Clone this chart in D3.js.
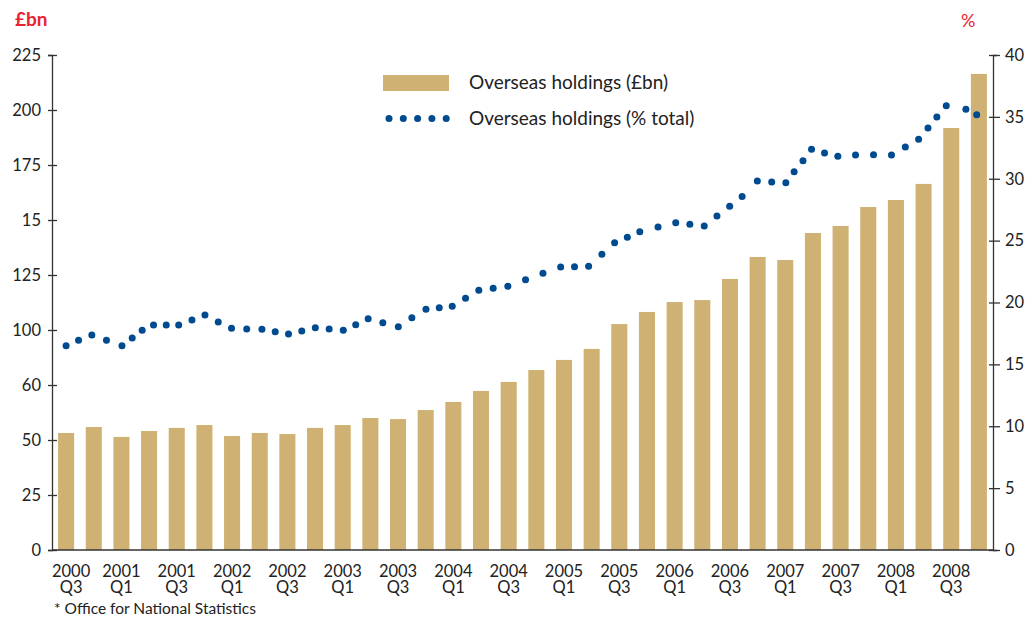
<!DOCTYPE html>
<html>
<head>
<meta charset="utf-8">
<script src="https://cdn.jsdelivr.net/npm/d3@7"></script>
<style>
  body { margin: 0; background: #fff; }
  svg { display: block; font-family: Lato, "Open Sans", sans-serif; }
</style>
</head>
<body>
<svg width="1026" height="618"></svg>
<script>
// quarters from 2000 Q3 to 2008 Q4
var quarters = ["2000 Q3","2000 Q4","2001 Q1","2001 Q2","2001 Q3","2001 Q4","2002 Q1","2002 Q2","2002 Q3","2002 Q4",
  "2003 Q1","2003 Q2","2003 Q3","2003 Q4","2004 Q1","2004 Q2","2004 Q3","2004 Q4","2005 Q1","2005 Q2","2005 Q3","2005 Q4",
  "2006 Q1","2006 Q2","2006 Q3","2006 Q4","2007 Q1","2007 Q2","2007 Q3","2007 Q4","2008 Q1","2008 Q2","2008 Q3","2008 Q4"];

// overseas holdings, £bn
var holdings = [53.2, 55.9, 51.4, 54.1, 55.5, 56.8, 51.8, 53.2, 52.7, 55.5,
  56.8, 60.0, 59.5, 63.6, 67.3, 72.3, 76.4, 81.8, 86.4, 91.4, 102.7, 108.2,
  112.7, 113.6, 123.2, 133.2, 131.8, 144.1, 147.3, 155.9, 159.1, 166.4, 191.8, 216.4];

// % of total: time (in quarters after 2000 Q3) and value
var shareTime = [0, 0.45, 0.93, 1.46, 2.02, 2.39, 2.75, 3.16, 3.62, 4.07, 4.55, 5.02, 5.5, 5.98, 6.53, 7.08, 7.56,
  8.04, 8.52, 9.01, 9.51, 10.02, 10.47, 10.92, 11.45, 12.01, 12.5, 13.01, 13.49, 13.96, 14.44, 14.92, 15.44,
  15.97, 16.61, 17.24, 17.88, 18.38, 18.89, 19.37, 19.83, 20.29, 20.74, 21.4, 22.04, 22.55, 23.07, 23.53,
  23.99, 24.44, 24.99, 25.51, 26.02, 26.32, 26.64, 26.95, 27.42, 27.9, 28.54, 29.19, 29.84, 30.34, 30.82,
  31.16, 31.48, 31.82, 32.53, 32.92];
var share = [16.51, 16.95, 17.37, 16.95, 16.51, 17.13, 17.75, 18.18, 18.18, 18.18, 18.59, 18.99, 18.42, 17.92,
  17.86, 17.83, 17.64, 17.45, 17.7, 17.96, 17.86, 17.75, 18.21, 18.69, 18.37, 18.04, 18.77, 19.45, 19.58,
  19.69, 20.34, 20.99, 21.15, 21.31, 21.84, 22.36, 22.87, 22.89, 22.93, 23.89, 24.83, 25.27, 25.72, 26.1,
  26.45, 26.32, 26.18, 26.99, 27.77, 28.57, 29.82, 29.74, 29.68, 30.57, 31.46, 32.38, 32.08, 31.81, 31.92,
  31.94, 31.92, 32.57, 33.19, 34.1, 34.99, 35.9, 35.61, 35.18];

// tick labels as printed
var leftTicks = [0, 25, 50, 75, 100, 125, 150, 175, 200, 225];
var leftTickLabels = ["0", "25", "50", "60", "100", "125", "15", "175", "200", "225"];
var rightTicks = [0, 5, 10, 15, 20, 25, 30, 35, 40];

var barColor = "#cfb173";
var dotColor = "#004a8f";
var axisColor = "#333";

var svg = d3.select("svg");
var mLeft = 52, mRight = 993, mTop = 55, mBottom = 550;

var x = d3.scaleBand().domain(quarters).range([mLeft, mRight])
  .paddingInner(0.42).paddingOuter(0.22);
var bw = x.bandwidth();
var xt = d3.scaleLinear().domain([0, quarters.length - 1])
  .range([x(quarters[0]) + bw / 2, x(quarters[quarters.length - 1]) + bw / 2]);
var yL = d3.scaleLinear().domain([0, 225]).range([mBottom, mTop]);
var yR = d3.scaleLinear().domain([0, 40]).range([mBottom, mTop]);

// bars
svg.append("g").selectAll("rect")
  .data(holdings)
  .enter()
  .append("rect")
  .attr("x", function(d, i) { return x(quarters[i]); })
  .attr("y", function(d) { return yL(d); })
  .attr("width", bw)
  .attr("height", function(d) { return yL(0) - yL(d); })
  .attr("fill", barColor);

// dots
svg.append("g").selectAll("circle")
  .data(share)
  .enter()
  .append("circle")
  .attr("cx", function(d, i) { return xt(shareTime[i]); })
  .attr("cy", function(d) { return yR(d); })
  .attr("r", 3.5)
  .attr("fill", dotColor);

// left axis
var gL = svg.append("g")
  .attr("transform", "translate(" + mLeft + ",0)")
  .call(d3.axisLeft(yL).tickValues(leftTicks).tickSize(4)
    .tickFormat(function(d, i) { return leftTickLabels[i]; }));
gL.selectAll(".tick line").attr("x2", 5).attr("x1", -4);
gL.selectAll("text").attr("x", -11);

// right axis
var gR = svg.append("g")
  .attr("transform", "translate(" + mRight + ",0)")
  .call(d3.axisRight(yR).tickValues(rightTicks).tickSize(4));
gR.selectAll(".tick line").attr("x1", -4).attr("x2", 7);
gR.selectAll("text").attr("x", 12);

[gL, gR].forEach(function(g) {
  g.select(".domain").attr("stroke", axisColor).attr("stroke-width", 1.3);
  g.selectAll(".tick line").attr("stroke", axisColor).attr("stroke-width", 1.3);
  g.selectAll("text").attr("fill", "#222").style("font-size", "16.5px")
    .style("font-family", "Lato, sans-serif");
});

// bottom axis line
svg.append("line")
  .attr("x1", mLeft).attr("x2", mRight)
  .attr("y1", yL(0)).attr("y2", yL(0))
  .attr("stroke", axisColor).attr("stroke-width", 1.3);

// x labels every other quarter, year on top, quarter below
var labelled = quarters.filter(function(d, i) { return i % 2 === 0; });
function labelX(d, i) { return x(d) + bw / 2 + (i === 0 ? 5 : 0); }
[0, 1].forEach(function(line) {
  svg.append("g").selectAll("text")
    .data(labelled)
    .enter()
    .append("text")
    .attr("x", labelX)
    .attr("y", line === 0 ? 577 : 593)
    .attr("text-anchor", "middle")
    .attr("fill", "#222")
    .style("font-size", "16.5px")
    .text(function(d) { return d.split(" ")[line]; });
});

// unit labels
svg.append("text").attr("x", 15).attr("y", 26).text("£bn")
  .attr("fill", "#e8232f").style("font-size", "19px").style("font-weight", "bold");
svg.append("text").attr("x", 961).attr("y", 27).text("%")
  .attr("fill", "#e8232f").style("font-size", "18px");

// legend
var lg = svg.append("g");
lg.append("rect").attr("x", 383).attr("y", 75).attr("width", 66).attr("height", 16).attr("fill", barColor);
lg.append("text").attr("x", 469).attr("y", 89).text("Overseas holdings (£bn)")
  .attr("fill", "#222").style("font-size", "19px");
lg.selectAll("circle").data([0, 1, 2, 3, 4]).enter().append("circle")
  .attr("cx", function(d) { return 389 + d * 14.3; })
  .attr("cy", 118.5).attr("r", 3.5).attr("fill", dotColor);
lg.append("text").attr("x", 469).attr("y", 125).text("Overseas holdings (% total)")
  .attr("fill", "#222").style("font-size", "19px");

// source
svg.append("text").attr("x", 54).attr("y", 614).text("* Office for National Statistics")
  .attr("fill", "#222").style("font-size", "15.5px");
</script>
</body>
</html>
